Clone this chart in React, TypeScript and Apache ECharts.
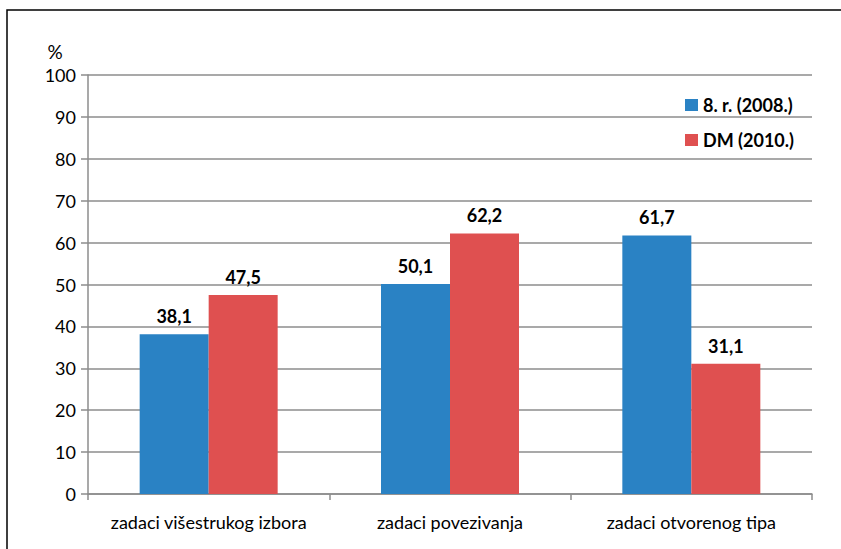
import React, { useEffect, useRef } from "react";
import * as echarts from "echarts";

const categories = ["zadaci višestrukog izbora", "zadaci povezivanja", "zadaci otvorenog tipa"];
const series2008 = [38.1, 50.1, 61.7];
const series2010 = [47.5, 62.2, 31.1];
const seriesNames = ["8. r. (2008.)", "DM (2010.)"];

const FONT = "Lato, 'Open Sans', sans-serif";

export default function App() {
  const ref = useRef<HTMLDivElement>(null);
  useEffect(() => {
    const chart = echarts.init(ref.current!, null, { renderer: "svg" });
    const labelCfg = {
      show: true,
      position: "top",
      distance: 9,
      color: "#000",
      fontWeight: "bold",
      fontSize: 18,
      fontFamily: FONT,
      formatter: (p: any) => String(p.value.toFixed(1)).replace(".", ","),
    };
    chart.setOption({
      animation: false,
      backgroundColor: "#fff",
      textStyle: { fontFamily: FONT },
      grid: { left: 88, right: 29, top: 75, bottom: 55 },
      legend: {
        orient: "vertical",
        left: 685,
        top: 96,
        padding: 0,
        itemWidth: 13,
        itemHeight: 12,
        itemGap: 17,
        icon: "rect",
        textStyle: { fontWeight: "bold", fontSize: 18, color: "#000", fontFamily: FONT },
        data: seriesNames,
      },
      xAxis: {
        type: "category",
        data: categories,
        axisLine: { lineStyle: { color: "#8c8c8c", width: 1.5 } },
        axisTick: { show: true, length: 6, lineStyle: { color: "#8c8c8c", width: 1.5 } },
        axisLabel: { color: "#000", fontSize: 18, margin: 19, fontFamily: FONT, interval: 0, hideOverlap: false },
      },
      yAxis: {
        type: "value",
        min: 0,
        max: 100,
        interval: 10,
        axisLine: { show: true, lineStyle: { color: "#8c8c8c", width: 1.5 } },
        axisTick: { show: true, length: 7, lineStyle: { color: "#8c8c8c", width: 1.5 } },
        axisLabel: { color: "#000", fontSize: 18, margin: 12, fontFamily: FONT },
        splitLine: { show: true, lineStyle: { color: "#8c8c8c", width: 1.5 } },
      },
      series: [
        {
          name: seriesNames[0],
          type: "bar",
          data: series2008,
          barWidth: 69,
          barGap: "0%",
          itemStyle: { color: "#2a82c4" },
          label: labelCfg,
        },
        {
          name: seriesNames[1],
          type: "bar",
          data: series2010,
          barWidth: 69,
          itemStyle: { color: "#df5050" },
          label: labelCfg,
        },
      ],
      graphic: [
        {
          type: "rect",
          shape: { x: 7, y: 10, width: 900, height: 700 },
          style: { fill: "none", stroke: "#000", lineWidth: 1.5 },
          silent: true,
        },
        {
          type: "text",
          x: 55,
          y: 51,
          style: { text: "%", fontSize: 19, fill: "#000", fontFamily: FONT, textAlign: "center", textVerticalAlign: "middle" },
        },
      ],
    });
    return () => chart.dispose();
  }, []);
  return <div ref={ref} style={{ position: "absolute", left: 0, top: 0, width: 841, height: 549 }} />;
}
